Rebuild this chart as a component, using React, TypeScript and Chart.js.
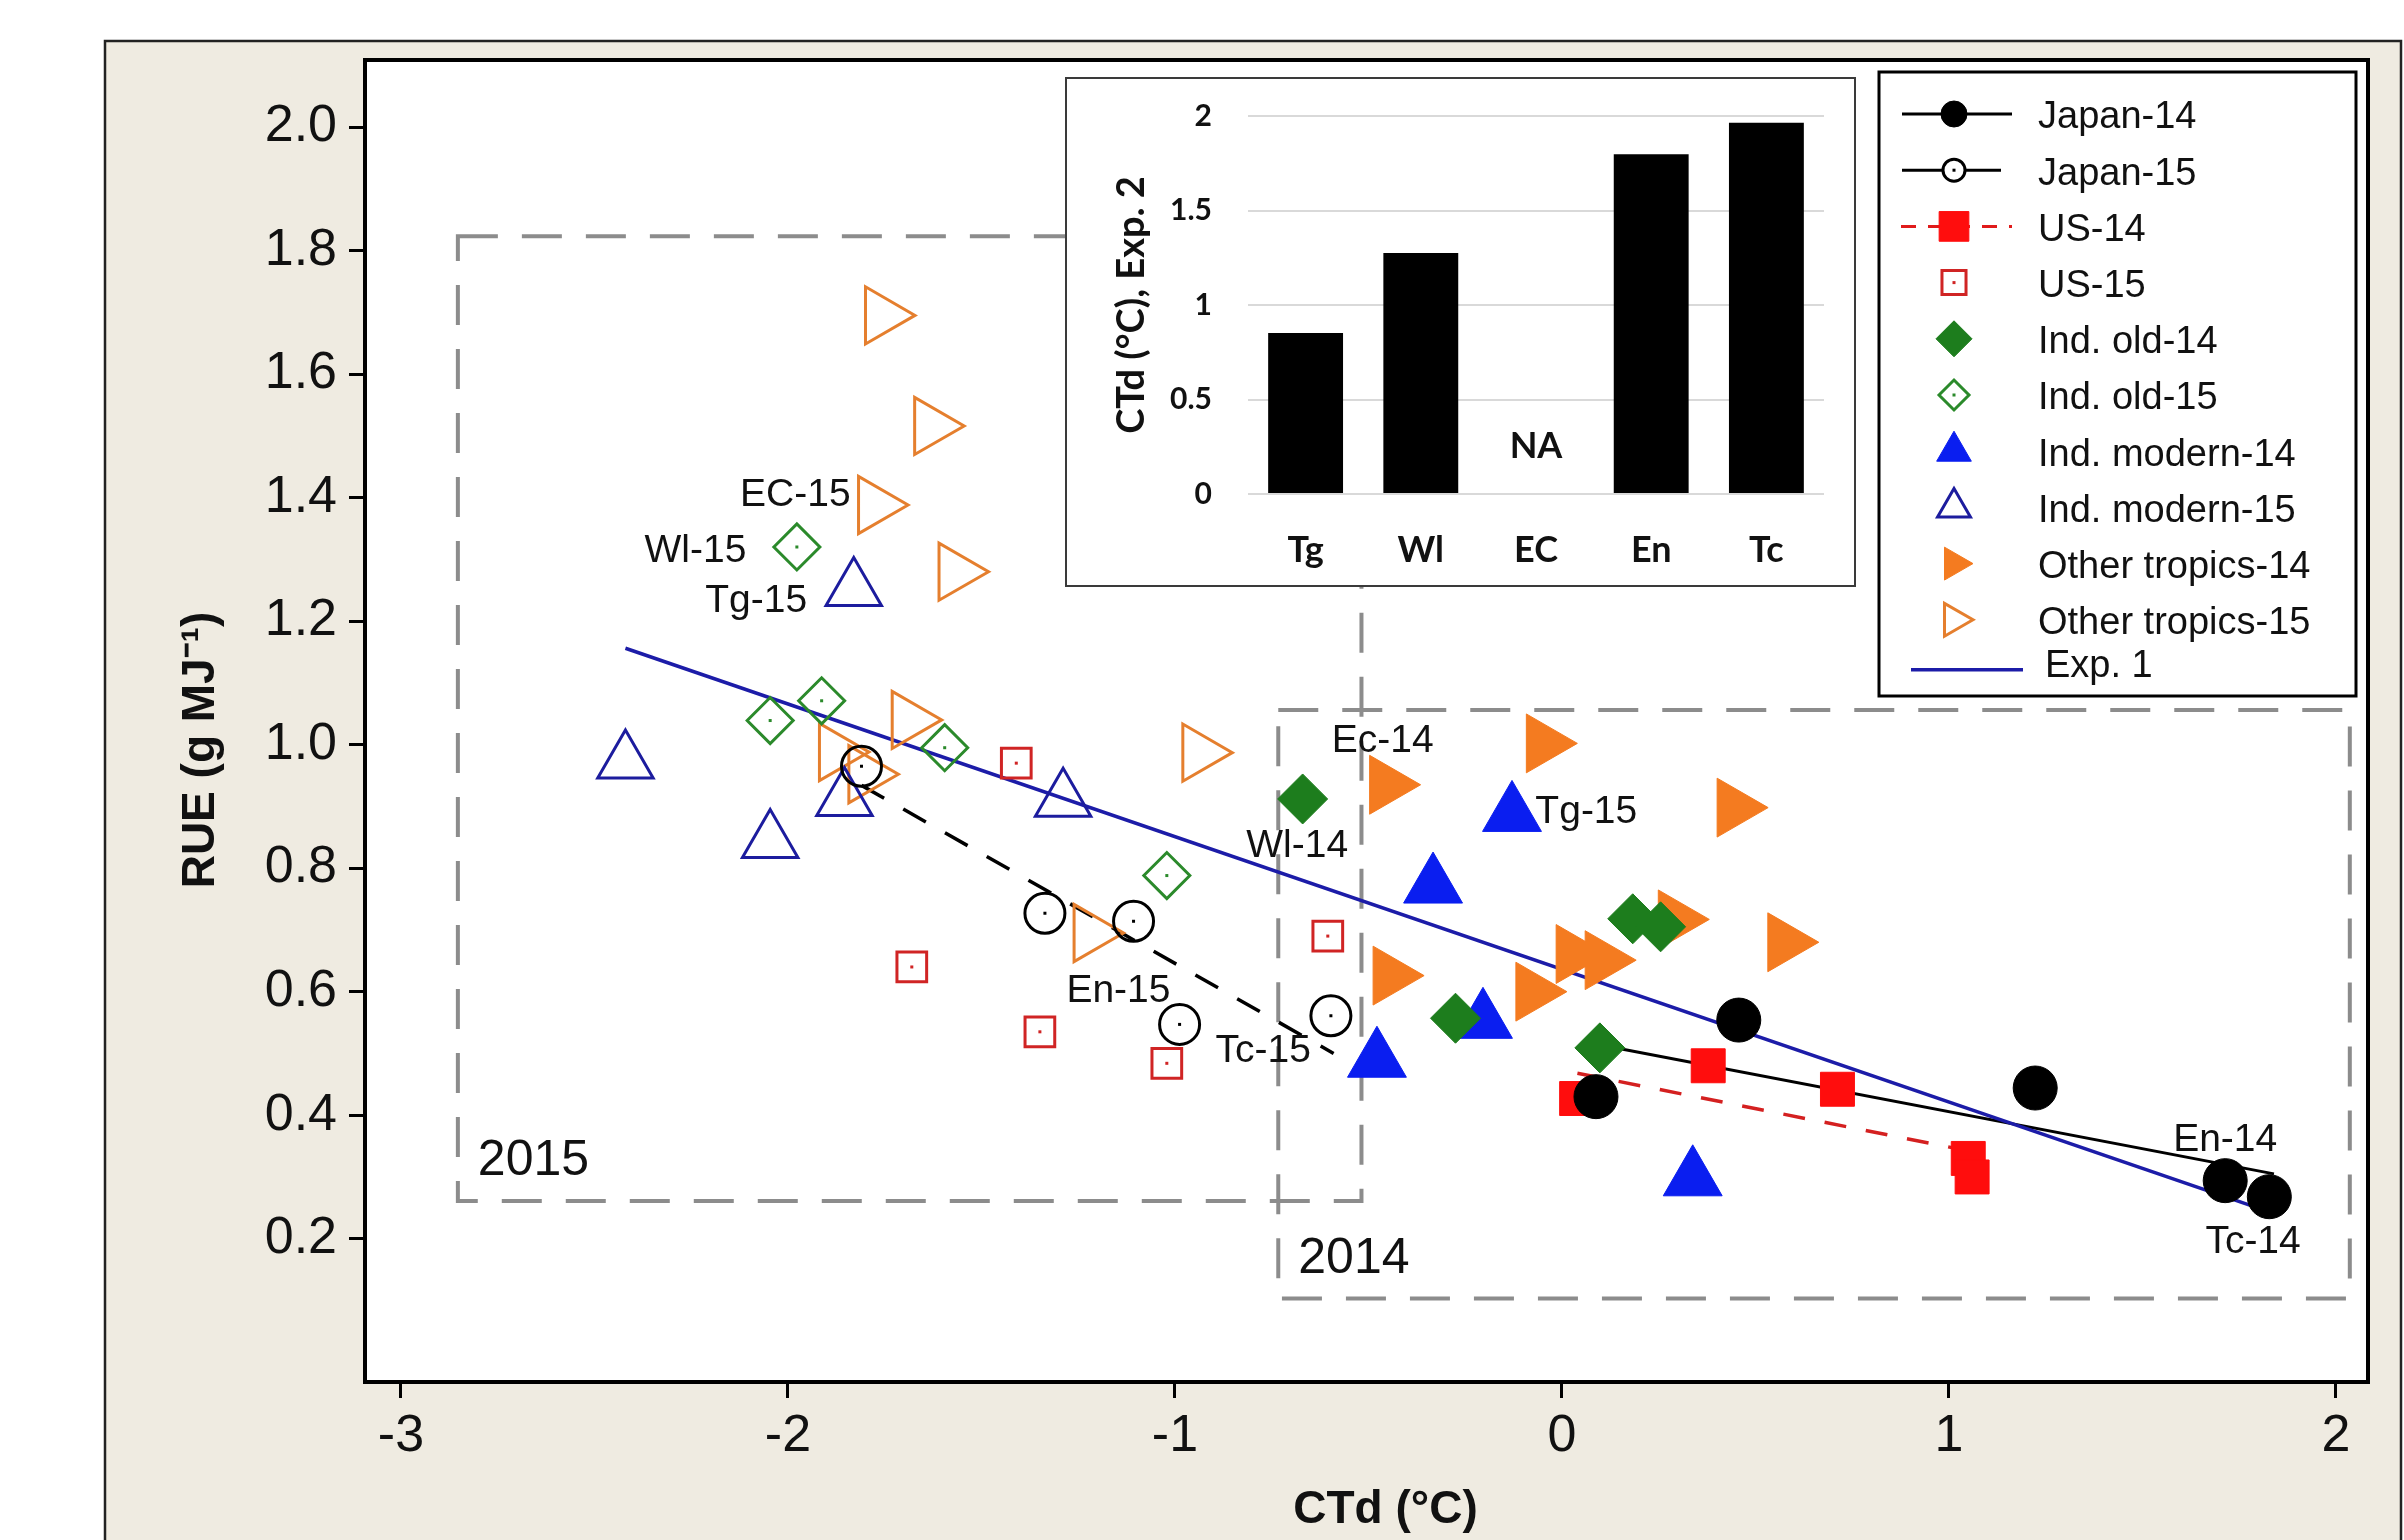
import React, { useEffect, useRef } from 'react';
import { Chart, registerables } from 'chart.js';
import { drawPoint } from 'chart.js/helpers';

Chart.register(...registerables);

type P = [number, number];

// ---------- main scatter data (CTd, RUE) ----------
const japan14: P[] = [[0.088, 0.43], [0.457, 0.554], [1.223, 0.444], [1.714, 0.294], [1.828, 0.268]];
const japan15: P[] = [[-1.81, 0.965], [-1.336, 0.727], [-1.107, 0.714], [-0.988, 0.547], [-0.597, 0.561]];
const us14: P[] = [[0.038, 0.427], [0.378, 0.48], [0.712, 0.442], [1.05, 0.33], [1.06, 0.3]];
const us15: P[] = [[-1.41, 0.97], [-1.68, 0.64], [-1.349, 0.535], [-1.021, 0.484], [-0.605, 0.69]];
const indOld14: P[] = [[-0.67, 0.912], [0.183, 0.718], [0.255, 0.705], [-0.275, 0.557], [0.098, 0.509]];
const indOld15: P[] = [[-1.977, 1.32], [-2.046, 1.039], [-1.913, 1.071], [-1.595, 0.995], [-1.021, 0.788]];
const indModern14: P[] = [[-0.129, 0.887], [-0.333, 0.771], [-0.204, 0.552], [-0.478, 0.489], [0.338, 0.297]];
const indModern15: P[] = [[-1.83, 1.251], [-2.42, 0.972], [-2.046, 0.843], [-1.854, 0.911], [-1.289, 0.91]];
const otherTropics14: P[] = [[-0.048, 1.002], [-0.453, 0.935], [0.445, 0.898], [0.293, 0.717], [0.576, 0.68], [0.029, 0.661], [0.104, 0.651], [-0.444, 0.626], [-0.075, 0.6]];
const otherTropics15: P[] = [[-1.757, 1.695], [-1.63, 1.516], [-1.775, 1.388], [-1.567, 1.28], [-1.688, 1.04], [-1.876, 0.988], [-1.8, 0.952], [-0.937, 0.987], [-1.218, 0.695]];

// fitted lines
const fitExp1: P[] = [[-2.42, 1.156], [1.83, 0.243]];
const fitJapan14: P[] = [[0.09, 0.515], [1.84, 0.305]];
const fitJapan15: P[] = [[-1.81, 0.934], [-0.59, 0.5]];
const fitUS14: P[] = [[0.04, 0.468], [1.06, 0.341]];

// axis ticks
const xTicks = [-3, -2, -1, 0, 1, 2];
const yTicks = [0.2, 0.4, 0.6, 0.8, 1.0, 1.2, 1.4, 1.6, 1.8, 2.0];

// point annotations (data coordinates)
const pointLabelText = ['EC-15', 'Wl-15', 'Tg-15', 'En-15', 'Tc-15', 'Ec-14', 'Wl-14', 'Tg-15', 'En-14', 'Tc-14'];
const pointLabelX = [-1.981, -2.239, -2.082, -1.146, -0.772, -0.463, -0.684, 0.063, 1.714, 1.786];
const pointLabelY = [1.403, 1.3135, 1.232, 0.6, 0.504, 1.005, 0.836, 0.891, 0.36, 0.194];

// year boxes (data coordinates)
const boxLabels = ['2015', '2014'];
const boxX1 = [-2.853, -0.733];
const boxX2 = [-0.518, 2.036];
const boxY1 = [0.261, 0.103];
const boxY2 = [1.823, 1.056];

// ---------- inset bar data ----------
const insetCategories = ['Tg', 'Wl', 'EC', 'En', 'Tc'];
const insetValues: (number | null)[] = [0.852, 1.275, null, 1.798, 1.964];
const insetTicks = [0, 0.5, 1, 1.5, 2];

// ---------- styles ----------
const seriesDefs: any[] = [
  { label: 'Japan-14', data: japan14, shape: 'circle', rotation: 0, radius: 22, color: '#000000', open: false, dot: false, legendRadius: 13, legendLine: { color: '#000', dash: [], x1: 1902, x2: 2012 } },
  { label: 'Japan-15', data: japan15, shape: 'circle', rotation: 0, radius: 20, color: '#000000', open: true, dot: true, legendRadius: 11, legendLine: { color: '#000', dash: [], x1: 1902, x2: 2001 } },
  { label: 'US-14', data: us14, shape: 'rect', rotation: 0, radius: 24, color: '#ff0d0d', open: false, dot: false, legendRadius: 21, legendLine: { color: '#e01b1b', dash: [15, 12], x1: 1901, x2: 2012 } },
  { label: 'US-15', data: us15, shape: 'rect', rotation: 0, radius: 21, color: '#d02424', open: true, dot: true, legendRadius: 17 },
  { label: 'Ind. old-14', data: indOld14, shape: 'rectRot', rotation: 0, radius: 25, color: '#1d7d1d', open: false, dot: false, legendRadius: 18 },
  { label: 'Ind. old-15', data: indOld15, shape: 'rectRot', rotation: 0, radius: 23, color: '#2b8a2b', open: true, dot: true, legendRadius: 15 },
  { label: 'Ind. modern-14', data: indModern14, shape: 'triangle', rotation: 0, radius: 34, color: '#0a1ef0', open: false, dot: false, legendRadius: 20 },
  { label: 'Ind. modern-15', data: indModern15, shape: 'triangle', rotation: 0, radius: 32, color: '#1c1c9e', open: true, dot: false, legendRadius: 19 },
  { label: 'Other tropics-14', data: otherTropics14, shape: 'triangle', rotation: 90, radius: 34, color: '#f47b20', open: false, dot: false, legendRadius: 19 },
  { label: 'Other tropics-15', data: otherTropics15, shape: 'triangle', rotation: 90, radius: 33, color: '#e57f2e', open: true, dot: false, legendRadius: 19 },
];

const fitDefs: any[] = [
  { data: fitExp1, color: '#1c1ca8', width: 3.5, dash: [] },
  { data: fitJapan14, color: '#000000', width: 3, dash: [] },
  { data: fitJapan15, color: '#000000', width: 3.5, dash: [26, 22] },
  { data: fitUS14, color: '#d42020', width: 3.5, dash: [22, 20] },
];

const SANS = "'Liberation Sans', Arial, sans-serif";
const BAR_FONT = "Lato, 'Open Sans', sans-serif";

function drawMarker(ctx: CanvasRenderingContext2D, s: any, x: number, y: number, r: number, legend: boolean) {
  ctx.save();
  const bw = s.open ? 3 : 1;
  ctx.lineWidth = bw;
  ctx.strokeStyle = s.color;
  ctx.fillStyle = s.open ? (legend ? '#ffffff' : 'rgba(0,0,0,0)') : s.color;
  drawPoint(ctx, { pointStyle: s.shape, radius: r, rotation: s.rotation, borderWidth: bw } as any, x, y);
  if (s.dot) {
    ctx.fillStyle = s.color;
    ctx.fillRect(x - 1.5, y - 1.5, 3, 3);
  }
  ctx.restore();
}

const mainPlugin = {
  id: 'mainDecor',
  beforeDraw(chart: any) {
    const { ctx, chartArea: a, width, height } = chart;
    ctx.save();
    ctx.fillStyle = '#ffffff';
    ctx.fillRect(0, 0, width, height);
    ctx.fillStyle = '#efebe1';
    ctx.fillRect(105, 41, 2296, height - 41);
    ctx.strokeStyle = '#222';
    ctx.lineWidth = 2.5;
    ctx.beginPath();
    ctx.moveTo(105, height);
    ctx.lineTo(105, 41);
    ctx.lineTo(2401, 41);
    ctx.lineTo(2401, height);
    ctx.stroke();
    ctx.fillStyle = '#ffffff';
    ctx.fillRect(a.left, a.top, a.right - a.left, a.bottom - a.top);
    ctx.restore();
  },
  beforeDatasetsDraw(chart: any) {
    const { ctx } = chart;
    const xs = chart.scales.x, ys = chart.scales.y;
    ctx.save();
    for (let i = 0; i < boxLabels.length; i++) {
      const L = xs.getPixelForValue(boxX1[i]);
      const R = xs.getPixelForValue(boxX2[i]);
      const T = ys.getPixelForValue(boxY2[i]);
      const B = ys.getPixelForValue(boxY1[i]);
      ctx.setLineDash([40, 24]);
      ctx.lineWidth = 4;
      ctx.strokeStyle = '#8c8c8c';
      ctx.strokeRect(L, T, R - L, B - T);
      ctx.setLineDash([]);
      ctx.font = `50px ${SANS}`;
      ctx.fillStyle = '#111';
      ctx.textAlign = 'left';
      ctx.textBaseline = 'alphabetic';
      ctx.fillText(boxLabels[i], L + 20, B - 26);
    }
    ctx.restore();
  },
  afterDatasetsDraw(chart: any) {
    const { ctx } = chart;
    const xs = chart.scales.x, ys = chart.scales.y;
    ctx.save();
    seriesDefs.forEach((s) => {
      if (!s.dot) return;
      ctx.fillStyle = s.color;
      s.data.forEach(([vx, vy]: P) => {
        const px = xs.getPixelForValue(vx), py = ys.getPixelForValue(vy);
        ctx.fillRect(px - 1.5, py - 1.5, 3, 3);
      });
    });
    ctx.font = `39px ${SANS}`;
    ctx.fillStyle = '#111';
    ctx.textAlign = 'center';
    ctx.textBaseline = 'middle';
    pointLabelText.forEach((t, i) => {
      ctx.fillText(t, xs.getPixelForValue(pointLabelX[i]), ys.getPixelForValue(pointLabelY[i]));
    });
    ctx.restore();
  },
  afterDraw(chart: any) {
    const { ctx, chartArea: a } = chart;
    ctx.save();
    ctx.strokeStyle = '#000';
    ctx.lineWidth = 4;
    ctx.beginPath();
    ctx.moveTo(a.left, a.top);
    ctx.lineTo(a.right, a.top);
    ctx.lineTo(a.right, a.bottom);
    ctx.stroke();

    // axis titles
    ctx.fillStyle = '#111';
    ctx.font = `bold 46px ${SANS}`;
    ctx.textAlign = 'center';
    ctx.textBaseline = 'middle';
    ctx.fillText('CTd (°C)', (a.left + a.right) / 2 + 19, a.bottom + 128);
    ctx.save();
    ctx.translate(201, (a.top + a.bottom) / 2 + 29);
    ctx.rotate(-Math.PI / 2);
    ctx.fillText('RUE (g MJ⁻¹)', 0, 0);
    ctx.restore();

    // legend
    const lx = 1879, ly = 72, lw = 477, lh = 624;
    ctx.fillStyle = '#fff';
    ctx.fillRect(lx, ly, lw, lh);
    ctx.strokeStyle = '#000';
    ctx.lineWidth = 3;
    ctx.strokeRect(lx, ly, lw, lh);
    const symX = 1954, textX = 2038, row0 = 118, step = 56.2;
    ctx.font = `38px ${SANS}`;
    ctx.textAlign = 'left';
    ctx.textBaseline = 'middle';
    seriesDefs.forEach((s, i) => {
      const ty = row0 + i * step;
      const sy = ty - 4;
      if (s.legendLine) {
        ctx.save();
        ctx.strokeStyle = s.legendLine.color;
        ctx.lineWidth = 3;
        ctx.setLineDash(s.legendLine.dash);
        ctx.beginPath();
        ctx.moveTo(s.legendLine.x1, sy);
        ctx.lineTo(s.legendLine.x2, sy);
        ctx.stroke();
        ctx.restore();
      }
      drawMarker(ctx, s, symX, sy, s.legendRadius, true);
      ctx.fillStyle = '#111';
      ctx.fillText(s.label, textX, ty);
    });
    const ety = row0 + (seriesDefs.length - 1) * step + 46;
    ctx.strokeStyle = fitDefs[0].color;
    ctx.lineWidth = 3.5;
    ctx.beginPath();
    ctx.moveTo(1911, ety);
    ctx.lineTo(2023, ety);
    ctx.stroke();
    ctx.fillStyle = '#111';
    ctx.fillText('Exp. 1', 2045, ety - 3);
    ctx.restore();
  },
};

const insetPlugin = {
  id: 'insetNA',
  afterDatasetsDraw(chart: any) {
    const { ctx } = chart;
    const idx = insetValues.findIndex((v) => v === null);
    if (idx < 0) return;
    const x = chart.scales.x.getPixelForValue(idx);
    const y = chart.scales.y.getPixelForValue(0.25);
    ctx.save();
    ctx.font = `bold 36px ${BAR_FONT}`;
    ctx.fillStyle = '#111';
    ctx.textAlign = 'center';
    ctx.textBaseline = 'middle';
    ctx.fillText('NA', x, y);
    ctx.restore();
  },
};

export default function App() {
  const mainRef = useRef<HTMLCanvasElement>(null);
  const insetRef = useRef<HTMLCanvasElement>(null);

  useEffect(() => {
    const markerSets = seriesDefs.map((s) => ({
      label: s.label,
      data: s.data.map(([x, y]: P) => ({ x, y })),
      showLine: false,
      pointStyle: s.shape,
      pointRadius: s.radius,
      pointHoverRadius: s.radius,
      pointRotation: s.rotation,
      pointBackgroundColor: s.open ? 'rgba(0,0,0,0)' : s.color,
      pointBorderColor: s.color,
      pointBorderWidth: s.open ? 3 : 1,
      order: 0,
    }));
    const lineSets = fitDefs.map((f) => ({
      data: f.data.map(([x, y]: P) => ({ x, y })),
      showLine: true,
      borderColor: f.color,
      borderWidth: f.width,
      borderDash: f.dash,
      pointRadius: 0,
      pointHoverRadius: 0,
      fill: false,
      order: 1,
    }));

    const main = new Chart(mainRef.current as HTMLCanvasElement, {
      type: 'scatter',
      data: { datasets: [...markerSets, ...lineSets] as any },
      options: {
        animation: false,
        responsive: false,
        events: [],
        layout: { padding: { top: 60, right: 32, left: 0, bottom: 0 } },
        plugins: { legend: { display: false }, tooltip: { enabled: false } },
        scales: {
          x: {
            type: 'linear',
            min: -3.093,
            max: 2.083,
            afterBuildTicks: (s: any) => { s.ticks = xTicks.map((v) => ({ value: v })); },
            afterFit: (s: any) => { s.height = 158; },
            ticks: { callback: (v: any) => String(v), font: { family: SANS, size: 52 }, color: '#111', padding: 7, maxRotation: 0, autoSkip: false },
            grid: { drawOnChartArea: false, drawTicks: true, tickLength: 16, color: '#000', lineWidth: 3 },
            border: { display: true, color: '#000', width: 4 },
          },
          y: {
            type: 'linear',
            min: -0.032,
            max: 2.1085,
            afterBuildTicks: (s: any) => { s.ticks = yTicks.map((v) => ({ value: v })); },
            afterFit: (s: any) => { s.width = 365; },
            ticks: { callback: (v: any) => Number(v).toFixed(1), font: { family: SANS, size: 52 }, color: '#111', padding: 12, autoSkip: false },
            grid: { drawOnChartArea: false, drawTicks: true, tickLength: 16, color: '#000', lineWidth: 3 },
            border: { display: true, color: '#000', width: 4 },
          },
        },
      } as any,
      plugins: [mainPlugin],
    });

    const inset = new Chart(insetRef.current as HTMLCanvasElement, {
      type: 'bar',
      data: {
        labels: insetCategories,
        datasets: [{ data: insetValues as any, backgroundColor: '#000', borderWidth: 0, barPercentage: 0.65, categoryPercentage: 1 }],
      },
      options: {
        animation: false,
        responsive: false,
        events: [],
        layout: { padding: { top: 37, right: 30, left: 0, bottom: 0 } },
        plugins: { legend: { display: false }, tooltip: { enabled: false } },
        scales: {
          x: {
            grid: { display: false },
            border: { display: false },
            ticks: { font: { family: BAR_FONT, weight: 'bold', size: 36 }, color: '#111', padding: 27 },
            afterFit: (s: any) => { s.height = 91; s.paddingLeft = 0; s.paddingRight = 0; },
          },
          y: {
            min: 0,
            max: 2,
            afterBuildTicks: (s: any) => { s.ticks = insetTicks.map((v) => ({ value: v })); },
            afterFit: (s: any) => { s.width = 181; s.paddingTop = 0; s.paddingBottom = 0; },
            grid: { color: '#d9d9d9', lineWidth: 2, drawTicks: false },
            border: { display: false },
            ticks: { callback: (v: any) => String(v), font: { family: BAR_FONT, weight: 'bold', size: 30 }, color: '#111', padding: 36 },
            title: { display: true, text: 'CTd (°C), Exp. 2', font: { family: BAR_FONT, weight: 'bold', size: 38 }, color: '#111', padding: { top: 42, bottom: 0 } },
          },
        },
      } as any,
      plugins: [insetPlugin],
    });

    return () => {
      main.destroy();
      inset.destroy();
    };
  }, []);

  return (
    <div style={{ position: 'absolute', left: 0, top: 0, width: 2404, height: 1540, background: '#fff', overflow: 'hidden' }}>
      <canvas ref={mainRef} width={2404} height={1540} style={{ position: 'absolute', left: 0, top: 0 }} />
      <div style={{ position: 'absolute', left: 1065, top: 77, width: 791, height: 510, boxSizing: 'border-box', border: '2px solid #3a3a3a', background: '#fff' }}>
        <canvas ref={insetRef} width={787} height={506} style={{ display: 'block' }} />
      </div>
    </div>
  );
}
